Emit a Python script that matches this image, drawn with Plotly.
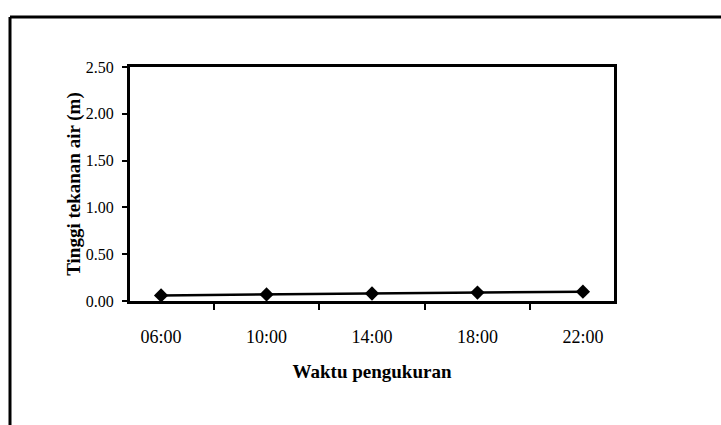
import plotly.graph_objects as go

waktu = ["06:00", "10:00", "14:00", "18:00", "22:00"]
tinggi = [0.06, 0.07, 0.08, 0.09, 0.10]
y_ticks = [0.0, 0.5, 1.0, 1.5, 2.0, 2.5]

W, H = 721, 425
L, R, T, B = 130, 107, 67, 124
pw, ph = W - L - R, H - T - B


def px_x(x):
    return (x - L) / pw


def px_y(y):
    return (H - B - y) / ph


fig = go.Figure()
fig.add_trace(
    go.Scatter(
        x=waktu,
        y=tinggi,
        mode="lines+markers",
        line={"color": "black", "width": 2.5},
        marker={"symbol": "diamond", "size": 11, "color": "black"},
        showlegend=False,
    )
)

# outer frame of the scanned page (left and top edges only)
frame = {"color": "black", "width": 3}
fig.add_shape(type="line", xref="paper", yref="paper", x0=px_x(10), x1=px_x(10), y0=px_y(430), y1=px_y(17), line=frame)
fig.add_shape(type="line", xref="paper", yref="paper", x0=px_x(10), x1=px_x(725), y0=px_y(17), y1=px_y(17), line=frame)

font = '"Liberation Serif", serif'
fig.update_layout(
    width=W,
    height=H,
    margin={"l": L, "r": R, "t": T, "b": B, "autoexpand": False},
    paper_bgcolor="white",
    plot_bgcolor="white",
    font={"family": font, "color": "black", "size": 16},
)
fig.update_xaxes(
    type="category",
    tickson="boundaries",
    ticks="outside",
    ticklen=6,
    tickwidth=1.5,
    tickcolor="black",
    showline=True,
    linecolor="black",
    linewidth=3,
    mirror=True,
    showgrid=False,
    automargin=False,
    ticklabelstandoff=17,
    tickfont={"size": 18, "family": font},
    title={"text": "<b>Waktu pengukuran</b>", "font": {"size": 19, "family": font}, "standoff": 20},
)
fig.update_yaxes(
    range=[0, 2.5],
    tickvals=y_ticks,
    tickformat=".2f",
    ticks="outside",
    ticklen=5,
    tickwidth=1.5,
    tickcolor="black",
    showline=True,
    linecolor="black",
    linewidth=3,
    mirror=True,
    showgrid=False,
    zeroline=False,
    automargin=False,
    ticklabelstandoff=5,
    tickfont={"size": 16, "family": font},
    title={"text": "<b>Tinggi tekanan air (m)</b>", "font": {"size": 19, "family": font}, "standoff": 1},
)

# the page body has a default 8px margin; drop it so the figure fills the window
fig.write_html(
    "out.html",
    config={"displayModeBar": False},
    post_script="document.body.style.margin='0';document.body.style.overflow='hidden';",
)
